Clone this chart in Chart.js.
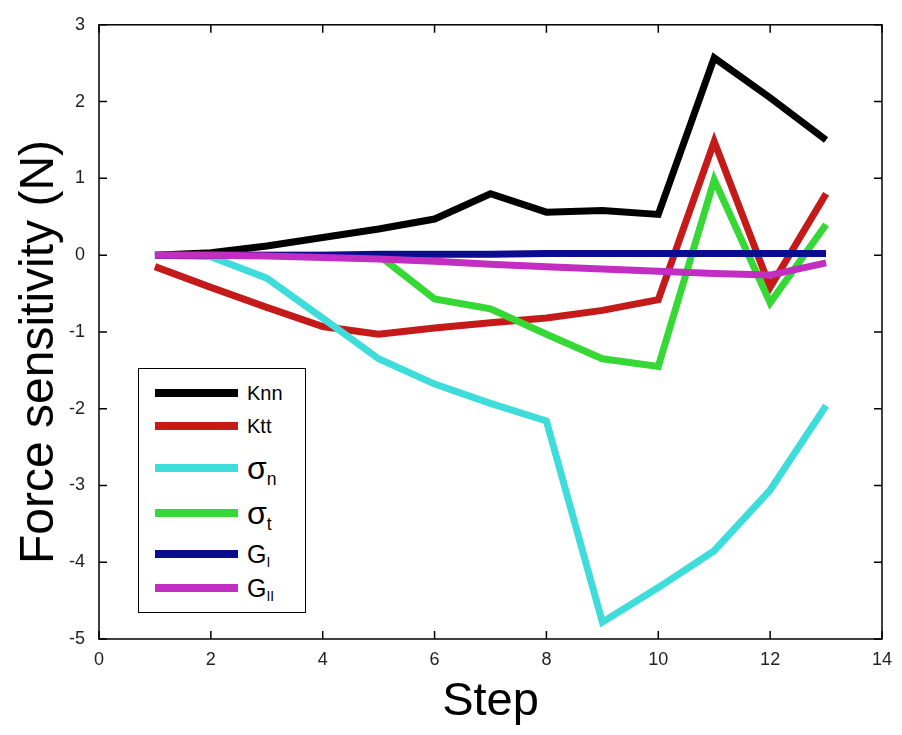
<!DOCTYPE html>
<html>
<head>
<meta charset="utf-8">
<script src="https://cdn.jsdelivr.net/npm/chart.js@4.4.1/dist/chart.umd.min.js"></script>
<style>
  html, body { margin: 0; padding: 0; background: #fff; }
  #wrap { position: relative; width: 902px; height: 735px; }
  #legend {
    position: absolute; left: 138px; top: 368px; width: 166px; height: 243px;
    border: 1.5px solid #000; background: #fff;
    font-family: "Liberation Sans", Arial, sans-serif; color: #000;
  }
  .swatch { position: absolute; left: 16px; width: 83px; height: 8px; margin-top: -4px; }
  .lbl { position: absolute; left: 108px; line-height: 1; white-space: nowrap; transform: translateY(-50%); }
  .lbl sub { position: relative; vertical-align: baseline; top: 0.32em; font-size: 0.55em; }
  #ytitle {
    position: absolute; left: 37px; top: 352px; white-space: nowrap; line-height: 1;
    font-family: "Liberation Sans", Arial, sans-serif; font-size: 48px; color: #000;
    transform: translate(-50%, -50%) rotate(-90deg);
  }
</style>
</head>
<body>
<div id="wrap">
  <canvas id="myChart" width="902" height="735"></canvas>
  <div id="ytitle">Force sensitivity (N)</div>
  <div id="legend"></div>
</div>
<script>
// step numbers on the x axis
const steps = [1, 2, 3, 4, 5, 6, 7, 8, 9, 10, 11, 12, 13];

// force sensitivity values (N)
const knn    = [0, 0.03, 0.12, 0.23, 0.34, 0.47, 0.8, 0.56, 0.58, 0.53, 2.57, 2.05, 1.5];
const ktt    = [-0.15, -0.42, -0.68, -0.93, -1.03, -0.95, -0.88, -0.82, -0.72, -0.58, 1.48, -0.42, 0.8];
const sigmaN = [0, -0.02, -0.3, -0.82, -1.35, -1.68, -1.93, -2.16, -4.78, -4.33, -3.85, -3.06, -1.96];
const sigmaT = [0, 0, 0, 0, 0, -0.57, -0.7, -1.03, -1.35, -1.45, 0.98, -0.62, 0.4];
const gI     = [0, 0, 0, 0, 0.01, 0.01, 0.01, 0.02, 0.02, 0.02, 0.02, 0.02, 0.02];
const gII    = [0, 0, -0.01, -0.03, -0.05, -0.08, -0.12, -0.15, -0.18, -0.21, -0.24, -0.26, -0.1];

const seriesBase = ["Knn", "Ktt", "σ", "σ", "G", "G"];
const seriesSub  = ["", "", "n", "t", "I", "II"];
const seriesData = [knn, ktt, sigmaN, sigmaT, gI, gII];
const seriesColors = ["#000000", "#c41a1a", "#3fdcdc", "#35d835", "#0c0c90", "#c22ec2"];

// legend look (not data)
const legendRowY = [24, 57, 99, 144, 185, 219];
const legendFont = [20, 20, 32, 32, 25, 25];

const FONT = "'Liberation Sans', Arial, sans-serif";

const frameTicks = {
  id: "frameTicks",
  afterDatasetsDraw(chart) {
    const { ctx, chartArea: a, scales: { x, y } } = chart;
    const len = 8;
    ctx.save();
    ctx.strokeStyle = "#000";
    ctx.lineWidth = 1.5;
    ctx.strokeRect(a.left, a.top, a.right - a.left, a.bottom - a.top);
    ctx.beginPath();
    x.ticks.forEach((t) => {
      const px = x.getPixelForValue(t.value);
      ctx.moveTo(px, a.bottom); ctx.lineTo(px, a.bottom - len);
      ctx.moveTo(px, a.top); ctx.lineTo(px, a.top + len);
    });
    y.ticks.forEach((t) => {
      const py = y.getPixelForValue(t.value);
      ctx.moveTo(a.left, py); ctx.lineTo(a.left + len, py);
      ctx.moveTo(a.right, py); ctx.lineTo(a.right - len, py);
    });
    ctx.stroke();
    ctx.restore();
  },
};

const datasets = seriesData.map((values, i) => ({
  label: seriesBase[i] + seriesSub[i],
  data: values.map((v, j) => ({ x: steps[j], y: v })),
  borderColor: seriesColors[i],
  backgroundColor: seriesColors[i],
  borderWidth: 7,
  borderJoinStyle: "miter",
  borderCapStyle: "butt",
  pointRadius: 0,
  tension: 0,
  order: seriesData.length - i, // later series on top
}));

new Chart(document.getElementById("myChart").getContext("2d"), {
  type: "line",
  data: { datasets: datasets },
  options: {
    responsive: false,
    animation: false,
    layout: { padding: { top: 22, right: 19, left: 0, bottom: 0 } },
    plugins: { legend: { display: false }, tooltip: { enabled: false } },
    scales: {
      x: {
        type: "linear",
        min: 0,
        max: 14,
        ticks: { stepSize: 2, color: "#222", padding: 10, maxRotation: 0, font: { family: FONT, size: 18 } },
        grid: { display: false, drawTicks: false },
        border: { display: false },
        title: { display: true, text: "Step", color: "#000", font: { family: FONT, size: 47 }, padding: { top: 0, bottom: 5 } },
        afterFit: (s) => { s.height = 96; },
      },
      y: {
        min: -5,
        max: 3,
        ticks: { stepSize: 1, color: "#222", padding: 14, font: { family: FONT, size: 18 } },
        grid: { display: false, drawTicks: false },
        border: { display: false },
        afterFit: (s) => { s.width = 99; },
      },
    },
  },
  plugins: [frameTicks],
});

// legend with subscripts
const legendEl = document.getElementById("legend");
seriesBase.forEach((name, i) => {
  const sw = document.createElement("div");
  sw.className = "swatch";
  sw.style.top = legendRowY[i] + "px";
  sw.style.background = seriesColors[i];
  legendEl.appendChild(sw);

  const lbl = document.createElement("div");
  lbl.className = "lbl";
  lbl.style.top = legendRowY[i] + "px";
  lbl.style.fontSize = legendFont[i] + "px";
  lbl.textContent = name;
  if (seriesSub[i]) {
    const sub = document.createElement("sub");
    sub.textContent = seriesSub[i];
    lbl.appendChild(sub);
  }
  legendEl.appendChild(lbl);
});
</script>
</body>
</html>
